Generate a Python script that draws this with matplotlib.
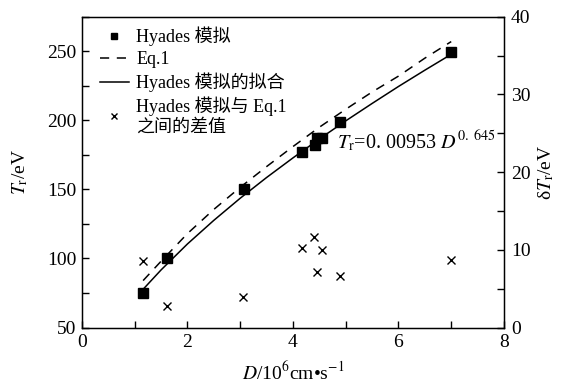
import matplotlib
matplotlib.use("Agg")
import matplotlib.pyplot as plt
from matplotlib.ticker import MultipleLocator

plt.rcParams['font.family'] = ['Liberation Serif', 'Noto Sans CJK SC']
plt.rcParams['mathtext.fontset'] = 'stix'

# Hyades simulation points (D in 1e6 cm/s, T_r in eV)
sim_D = [1.16, 1.62, 3.07, 4.18, 4.42, 4.46, 4.56, 4.89, 6.99]
sim_T = [75, 100, 150, 177, 182, 187.5, 187.5, 199, 249.5]

# fit line T_r = 0.00953 D^0.645
fit_D = [1.16, 1.5, 2, 2.5, 3, 3.5, 4, 4.5, 5, 5.5, 6, 6.5, 7]
fit_T = [77.7, 91.7, 110.5, 127.6, 143.6, 158.6, 172.8, 186.5, 199.6, 212.2, 224.5, 236.3, 247.8]

# Eq.1
eq_D = [1.16, 1.5, 2, 2.5, 3, 3.5, 4, 4.5, 5, 5.5, 6, 6.5, 7]
eq_T = [84, 98, 118, 135.5, 151.5, 166.5, 181, 195, 208, 220.5, 232, 245, 257]

# difference (right axis)
diff_D = [1.16, 1.61, 3.06, 4.18, 4.40, 4.56, 4.46, 4.89, 6.99]
diff_T = [8.6, 2.8, 3.9, 10.2, 11.7, 10.0, 7.2, 6.6, 8.7]

fig = plt.figure(figsize=(5.65, 3.89), dpi=100)
ax = fig.add_axes([0.145, 0.158, 0.747, 0.799])
ax2 = ax.twinx()

h1, = ax.plot(sim_D, sim_T, "s", color="black", markersize=7, label="Hyades 模拟", zorder=3)
h2, = ax.plot(eq_D, eq_T, "--", color="black", lw=1.1, dashes=(6, 5), label="Eq.1")
h3, = ax.plot(fit_D, fit_T, "-", color="black", lw=1.1, label="Hyades 模拟的拟合")
h4, = ax2.plot(diff_D, diff_T, "x", color="black", markersize=6, mew=1.0,
               label="Hyades 模拟与 Eq.1\n之间的差值")

ax.set_xlim(0, 8)
ax.set_ylim(50, 275)
ax2.set_ylim(0, 40)

ax.xaxis.set_major_locator(MultipleLocator(2))
ax.xaxis.set_minor_locator(MultipleLocator(1))
ax.yaxis.set_major_locator(MultipleLocator(50))
ax.yaxis.set_minor_locator(MultipleLocator(25))
ax2.yaxis.set_major_locator(MultipleLocator(10))
ax2.yaxis.set_minor_locator(MultipleLocator(5))

for a in (ax, ax2):
    a.tick_params(which="both", direction="in", labelsize=14, width=1.0, length=5)
ax.tick_params(axis="x", pad=5)
ax.tick_params(axis="y", pad=4)
ax2.tick_params(axis="y", pad=5)
for s in ax.spines.values():
    s.set_linewidth(1.0)

ax.set_xlabel(r"$D$/10$^6$cm•s$^{-1}$", fontsize=14, labelpad=7)
ax.set_ylabel(r"$T_{\rm r}$/eV", fontsize=14, labelpad=12)
ax2.set_ylabel(r"δ$T_{\rm r}$/eV", fontsize=14, labelpad=4)

ax.text(4.83, 180, r"$T_{\rm r}$=0. 00953 $D^{0.\ 645}$", fontsize=14.5, va="baseline")

leg = ax.legend(handles=[h1, h2, h3, h4], loc="upper left", frameon=False,
                fontsize=13, handlelength=1.6, labelspacing=0.25,
                borderaxespad=0.0, borderpad=0.3, handletextpad=0.4,
                markerscale=0.7, bbox_to_anchor=(0.03, 0.985))

fig.savefig("out.png", dpi=100)
